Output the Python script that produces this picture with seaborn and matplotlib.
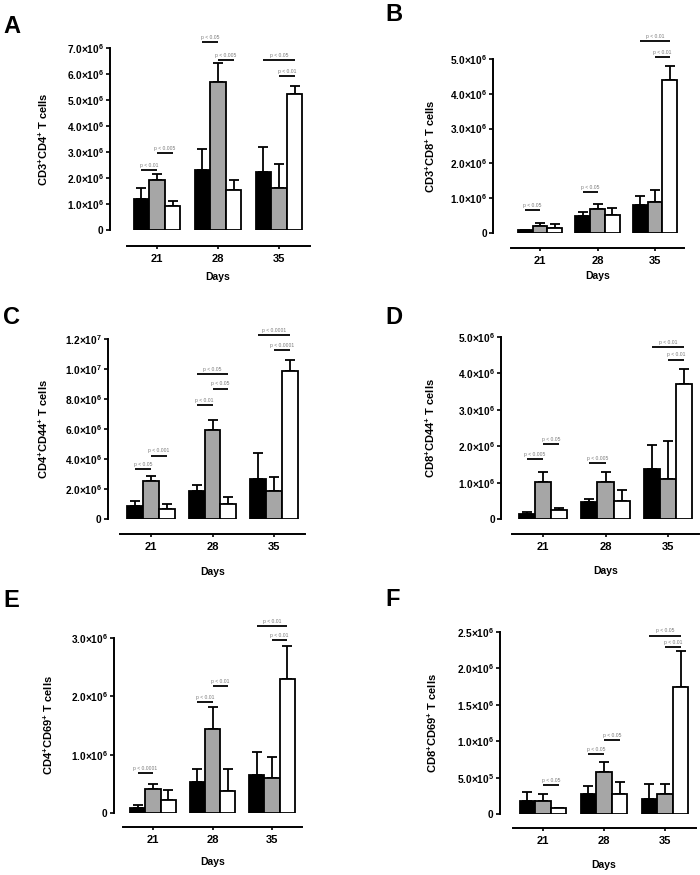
import matplotlib
matplotlib.use("Agg")
import matplotlib.pyplot as plt
import seaborn as sns
import pandas as pd
import numpy as np

sns.set_theme(style="ticks")
plt.rcParams['font.family'] = ['Liberation Sans', 'DejaVu Sans']
plt.rcParams['font.weight'] = 'bold'
plt.rcParams['mathtext.fontset'] = 'custom'
plt.rcParams['mathtext.rm'] = 'Liberation Sans:bold'
plt.rcParams['mathtext.bf'] = 'Liberation Sans:bold'
plt.rcParams['mathtext.it'] = 'Liberation Sans:bold'
for k in ['text.color', 'axes.labelcolor', 'xtick.color', 'ytick.color', 'axes.edgecolor']:
    plt.rcParams[k] = 'black'

# ---------------- data ----------------
days = ["21", "28", "35"]
groups = ["g1", "g2", "g3"]
bar_colors = ["#000000", "#a6a6a6", "#ffffff"]

# Panel A: CD3+CD4+ (x1e6)
A_mean = [[1.21, 1.92, 0.91], [2.32, 5.68, 1.55], [2.22, 1.62, 5.24]]
A_top = [[1.62, 2.17, 1.10], [3.13, 6.42, 1.91], [3.21, 2.55, 5.55]]
A_sig = [(0, 0, 1, 2.29, "p < 0.01"), (0, 1, 2, 2.96, "p < 0.005"),
         (1, 0, 1, 7.23, "p < 0.05"), (1, 1, 2, 6.55, "p < 0.005"),
         (2, 0, 2, 6.55, "p < 0.05"), (2, 1, 2, 5.91, "p < 0.01")]
A_ticks = ["0", "1.0×10$^{6}$", "2.0×10$^{6}$", "3.0×10$^{6}$", "4.0×10$^{6}$",
           "5.0×10$^{6}$", "6.0×10$^{6}$", "7.0×10$^{6}$"]

# Panel B: CD3+CD8+ (x1e6)
B_mean = [[0.08, 0.20, 0.15], [0.48, 0.70, 0.53], [0.80, 0.88, 4.41]]
B_top = [[0.10, 0.29, 0.27], [0.59, 0.84, 0.73], [1.05, 1.23, 4.81]]
B_sig = [(0, 0, 1, 0.65, "p < 0.05"), (1, 0, 1, 1.17, "p < 0.05"),
         (2, 0, 2, 5.52, "p < 0.01"), (2, 1, 2, 5.06, "p < 0.01")]
B_ticks = ["0", "1.0×10$^{6}$", "2.0×10$^{6}$", "3.0×10$^{6}$", "4.0×10$^{6}$", "5.0×10$^{6}$"]

# Panel C: CD4+CD44+ (x1e6)
C_mean = [[0.87, 2.52, 0.69], [1.87, 5.95, 1.02], [2.69, 1.87, 9.84]]
C_top = [[1.20, 2.87, 1.02], [2.27, 6.57, 1.45], [4.39, 2.78, 10.6]]
C_sig = [(0, 0, 1, 3.34, "p < 0.05"), (0, 1, 2, 4.23, "p < 0.001"),
         (1, 0, 1, 7.62, "p < 0.01"), (1, 1, 2, 8.69, "p < 0.05"),
         (1, 0, 2, 9.64, "p < 0.05"), (2, 0, 2, 12.27, "p < 0.0001"),
         (2, 1, 2, 11.25, "p < 0.0001")]
C_ticks = ["0", "2.0×10$^{6}$", "4.0×10$^{6}$", "6.0×10$^{6}$", "8.0×10$^{6}$",
           "1.0×10$^{7}$", "1.2×10$^{7}$"]

# Panel D: CD8+CD44+ (x1e6)
D_mean = [[0.14, 1.03, 0.25], [0.46, 1.01, 0.50], [1.38, 1.10, 3.71]]
D_top = [[0.18, 1.28, 0.31], [0.56, 1.28, 0.80], [2.02, 2.15, 4.12]]
D_sig = [(0, 0, 1, 1.65, "p < 0.005"), (0, 1, 2, 2.05, "p < 0.05"),
         (1, 0, 1, 1.54, "p < 0.005"), (2, 0, 2, 4.72, "p < 0.01"),
         (2, 1, 2, 4.38, "p < 0.01")]
D_ticks = B_ticks

# Panel E: CD4+CD69+ (x1e6)
E_mean = [[0.09, 0.41, 0.22], [0.53, 1.44, 0.37], [0.66, 0.60, 2.30]]
E_top = [[0.14, 0.49, 0.40], [0.76, 1.81, 0.75], [1.05, 0.96, 2.86]]
E_sig = [(0, 0, 1, 0.68, "p < 0.0001"), (1, 0, 1, 1.90, "p < 0.01"),
         (1, 1, 2, 2.17, "p < 0.01"), (2, 0, 2, 3.21, "p < 0.01"),
         (2, 1, 2, 2.96, "p < 0.01")]
E_ticks = ["0", "1.0×10$^{6}$", "2.0×10$^{6}$", "3.0×10$^{6}$"]

# Panel F: CD8+CD69+ (x1e5)
F_mean = [[1.85, 1.85, 0.78], [2.75, 5.77, 2.75], [2.10, 2.75, 17.4]]
F_top = [[2.98, 2.75, 0.85], [3.90, 7.19, 4.44], [4.12, 4.12, 22.4]]
F_sig = [(0, 1, 2, 3.98, "p < 0.05"), (1, 0, 1, 8.2, "p < 0.05"),
         (1, 1, 2, 10.2, "p < 0.05"), (2, 0, 2, 24.5, "p < 0.05"),
         (2, 1, 2, 22.9, "p < 0.01")]
F_ticks = ["0", "5.0×10$^{5}$", "1.0×10$^{6}$", "1.5×10$^{6}$", "2.0×10$^{6}$", "2.5×10$^{6}$"]

panels = [
    dict(letter="A", ylabel="CD3$^{+}$CD4$^{+}$ T cells", mean=A_mean, top=A_top, sig=A_sig,
         unit=1e6, ticks=A_ticks, step=1.0, letter_xy=(3, 33),
         yx=110, ytop=48, ybot=230, sp=61, c0=157, xline=246, daysy=277, ylx=43),
    dict(letter="B", ylabel="CD3$^{+}$CD8$^{+}$ T cells", mean=B_mean, top=B_top, sig=B_sig,
         unit=1e6, ticks=B_ticks, step=1.0, letter_xy=(385, 21),
         yx=493, ytop=59, ybot=233, sp=57.5, c0=540, xline=248, daysy=276, ylx=430),
    dict(letter="C", ylabel="CD4$^{+}$CD44$^{+}$ T cells", mean=C_mean, top=C_top, sig=C_sig,
         unit=1e6, ticks=C_ticks, step=2.0, letter_xy=(3, 324),
         yx=108, ytop=339, ybot=519, sp=61.5, c0=151, xline=534, daysy=572, ylx=43),
    dict(letter="D", ylabel="CD8$^{+}$CD44$^{+}$ T cells", mean=D_mean, top=D_top, sig=D_sig,
         unit=1e6, ticks=D_ticks, step=1.0, letter_xy=(385, 324),
         yx=501, ytop=337, ybot=519, sp=62.5, c0=543, xline=534, daysy=571, ylx=430),
    dict(letter="E", ylabel="CD4$^{+}$CD69$^{+}$ T cells", mean=E_mean, top=E_top, sig=E_sig,
         unit=1e6, ticks=E_ticks, step=1.0, letter_xy=(3, 607),
         yx=114, ytop=638, ybot=813, sp=59.5, c0=153, xline=827, daysy=862, ylx=48),
    dict(letter="F", ylabel="CD8$^{+}$CD69$^{+}$ T cells", mean=F_mean, top=F_top, sig=F_sig,
         unit=1e5, ticks=F_ticks, step=5.0, letter_xy=(385, 606),
         yx=500, ytop=632, ybot=814, sp=61, c0=543, xline=828, daysy=865, ylx=432),
]

W, H = 700, 875
fig = plt.figure(figsize=(7, 8.75), dpi=100)
PT = 72 / 100.0  # points per pixel

for p in panels:
    xl = -(p["c0"] - p["yx"]) / p["sp"]
    xr = 2.55
    right_px = p["yx"] + p["sp"] * (xr - xl)
    ax = fig.add_axes([p["yx"] / W, 1 - p["ybot"] / H,
                       (right_px - p["yx"]) / W, (p["ybot"] - p["ytop"]) / H])
    rows = []
    for gi, d in enumerate(days):
        for hi, g in enumerate(groups):
            rows.append(dict(day=d, group=g, value=p["mean"][gi][hi] * p["unit"]))
    df = pd.DataFrame(rows)
    sns.barplot(data=df, x="day", y="value", hue="group", order=days, hue_order=groups,
                palette=bar_colors, saturation=1, width=0.77, gap=0, errorbar=None,
                edgecolor="black", linewidth=1.3, legend=False, ax=ax, zorder=2)
    bars = sorted([(r.get_x() + r.get_width() / 2, r.get_height()) for r in ax.patches
                   if r.get_height() > 0], key=lambda t: t[0])
    xs = [b[0] for b in bars]
    means = np.array([v for row in p["mean"] for v in row]) * p["unit"]
    tops = np.array([v for row in p["top"] for v in row]) * p["unit"]
    ax.errorbar(xs, means, yerr=[np.zeros_like(means), tops - means], fmt="none",
                ecolor="black", elinewidth=1.3, capsize=3.8, capthick=1.3, zorder=1)
    ymax = (len(p["ticks"]) - 1) * p["step"] * p["unit"]
    ax.set_ylim(0, ymax)
    ax.set_xlim(xl, xr)
    ax.set_yticks(np.arange(len(p["ticks"])) * p["step"] * p["unit"])
    ax.set_yticklabels(p["ticks"])
    for gi, i, j, yv, txt in p["sig"]:
        x1, x2 = xs[gi * 3 + i], xs[gi * 3 + j]
        y = yv * p["unit"]
        ax.plot([x1, x2], [y, y], color="black", lw=1.3, clip_on=False, solid_capstyle="butt")
        ax.text((x1 + x2) / 2, y + ymax * 0.012, txt, ha="center", va="bottom",
                fontsize=3.6, color="#7a7a7a", fontweight="normal", clip_on=False)
    for s in ["top", "right"]:
        ax.spines[s].set_visible(False)
    ax.spines["left"].set_bounds(0, ymax)
    ax.spines["left"].set_linewidth(1.4)
    ax.spines["bottom"].set_linewidth(1.4)
    ax.spines["bottom"].set_position(("outward", (p["xline"] - p["ybot"]) * PT))
    ax.spines["bottom"].set_bounds(-0.5, 2.5)
    ax.tick_params(axis="y", length=3, width=1.2, pad=1.5, labelsize=7.3, direction="out")
    ax.tick_params(axis="x", length=2.5, width=1.2, pad=3, labelsize=8, direction="out")
    for lab in ax.get_xticklabels() + ax.get_yticklabels():
        lab.set_fontweight("bold")
    ax.set_ylabel(p["ylabel"], fontsize=8, fontweight="bold")
    ax.set_xlabel("Days", fontsize=7.5, fontweight="bold")
    wpx = right_px - p["yx"]
    hpx = p["ybot"] - p["ytop"]
    ax.yaxis.set_label_coords((p["ylx"] - p["yx"]) / wpx, 0.5)
    ax.xaxis.set_label_coords((p["c0"] + p["sp"] - p["yx"]) / wpx,
                              -(p["daysy"] - p["ybot"]) / hpx)
    ax.xaxis.label.set_va("center")
    ax.yaxis.label.set_va("center")
    ax.set_facecolor("white")
    fig.text(p["letter_xy"][0] / W, 1 - p["letter_xy"][1] / H, p["letter"],
             fontsize=17, fontweight="bold", ha="left", va="baseline", color="black")

fig.savefig("out.png", dpi=100, facecolor="white")
